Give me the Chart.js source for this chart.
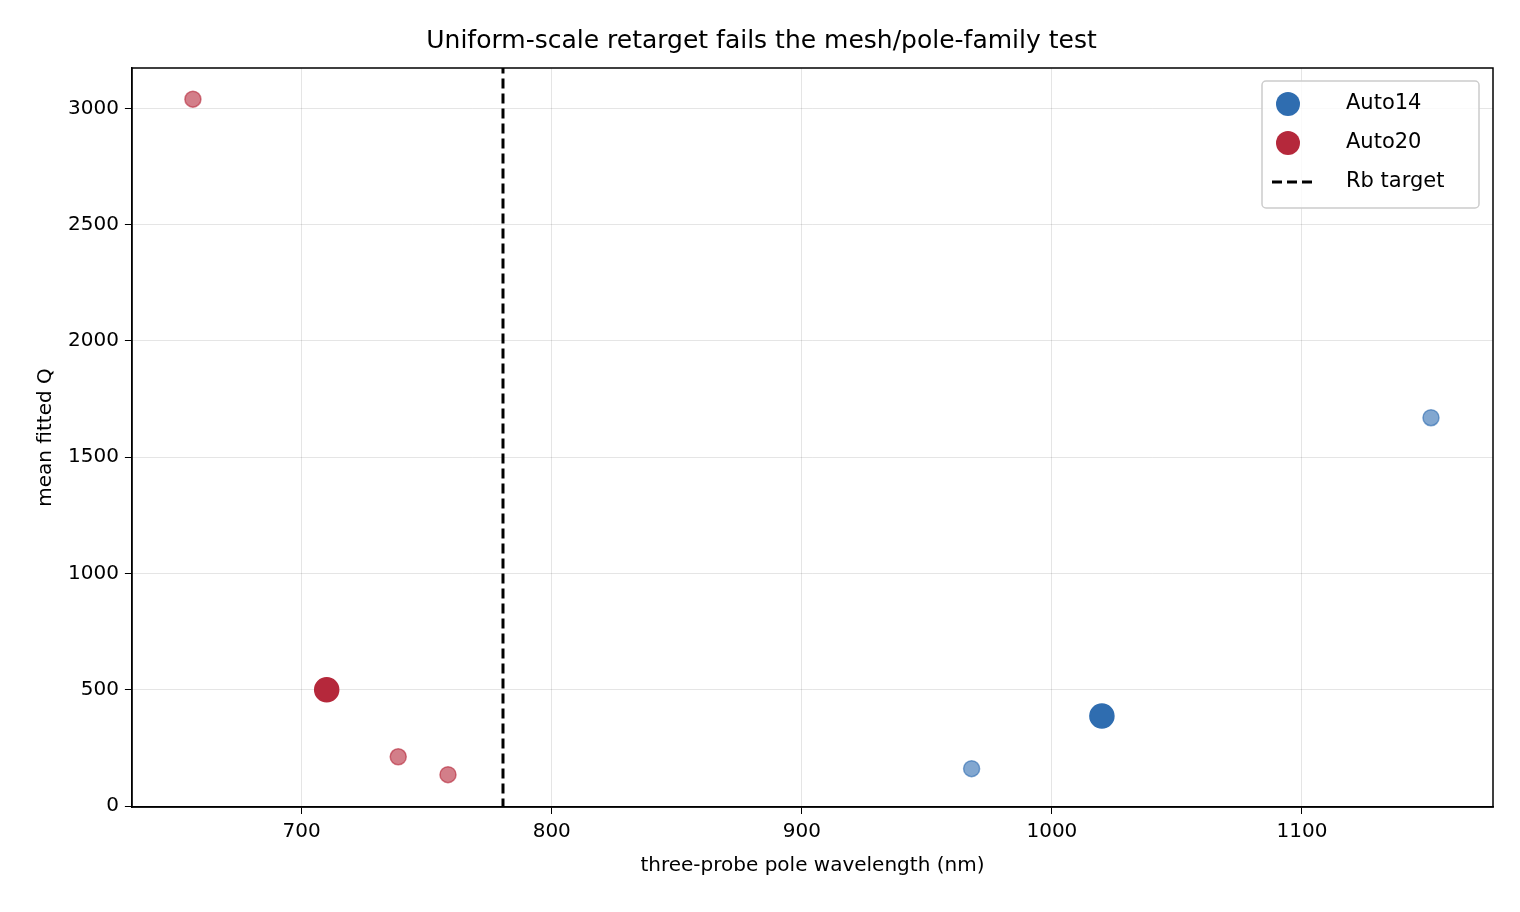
<!DOCTYPE html>
<html><head><meta charset="utf-8">
<script src="https://cdn.jsdelivr.net/npm/chart.js@4/dist/chart.umd.min.js"></script>
<style>body{margin:0;background:#fff}#w{width:1520px;height:912px}</style>
</head><body><div id="w"><canvas id="c"></canvas></div>
<script>
const auto14X=[967.9,1020,1151.6];
const auto14Y=[161,387,1670];
const auto14Main=[false,true,false];
const auto20X=[656.5,710,738.6,758.5];
const auto20Y=[3040,500,212,135];
const auto20Main=[false,true,false,false];
const rbTarget=780.5;
const seriesNames=['Auto14','Auto20','Rb target'];
const BLUE='rgb(47,109,176)',RED='rgb(181,40,59)';
const BLUEA='rgba(47,109,176,0.6)',REDA='rgba(181,40,59,0.6)';
const F='"DejaVu Sans", sans-serif';
const pts=(xs,ys)=>xs.map((x,i)=>({x,y:ys[i]}));
const legendPlugin={id:'lg',afterDraw(ch){
  const c=ch.ctx,a=ch.chartArea;const w=217,h=127,x=a.right-w-14,y=a.top+13;
  c.save();c.strokeStyle='#000';c.lineWidth=1.5;c.strokeRect(a.left,a.top,a.right-a.left,a.bottom-a.top);
  c.fillStyle='rgba(255,255,255,0.8)';c.strokeStyle='#ccc';
  c.beginPath();c.roundRect(x,y,w,h,4);c.fill();c.stroke();
  c.font='21px '+F;c.textBaseline='middle';
  [[BLUE,'c'],[RED,'c'],['#000','l']].forEach((it,i)=>{const cy=y+23+i*39;
    if(it[1]==='c'){c.fillStyle=it[0];c.beginPath();c.arc(x+26,cy,12,0,7);c.fill();}
    else{c.strokeStyle='#000';c.lineWidth=3;c.setLineDash([10,5]);c.beginPath();c.moveTo(x+10,cy);c.lineTo(x+52,cy);c.stroke();c.setLineDash([]);}
    c.fillStyle='#000';c.fillText(seriesNames[i],x+84,cy);});
  c.restore();}};
new Chart(document.getElementById('c'),{type:'scatter',
data:{datasets:[
 {label:seriesNames[0],data:pts(auto14X,auto14Y),backgroundColor:auto14Main.map(m=>m?BLUE:BLUEA),borderColor:auto14Main.map(m=>m?BLUE:BLUEA),pointRadius:auto14Main.map(m=>m?12:8),pointHoverRadius:auto14Main.map(m=>m?12:8),borderWidth:1.5},
 {label:seriesNames[1],data:pts(auto20X,auto20Y),backgroundColor:auto20Main.map(m=>m?RED:REDA),borderColor:auto20Main.map(m=>m?RED:REDA),pointRadius:auto20Main.map(m=>m?12:8),pointHoverRadius:auto20Main.map(m=>m?12:8),borderWidth:1.5},
 {type:'line',label:seriesNames[2],data:[{x:rbTarget,y:-10},{x:rbTarget,y:3200}],borderColor:'#000',borderWidth:3,borderDash:[10,5],pointRadius:0}
]},
options:{responsive:true,maintainAspectRatio:false,animation:false,
 layout:{padding:{left:30,right:27,top:14,bottom:30}},
 plugins:{legend:{display:false},tooltip:{enabled:false},
  title:{display:true,text:'Uniform-scale retarget fails the mesh/pole-family test',color:'#000',font:{family:F,size:25,weight:'normal'},padding:{top:12,bottom:12}}},
 scales:{
  x:{type:'linear',min:632.1,max:1176.4,afterBuildTicks:s=>{s.ticks=[700,800,900,1000,1100].map(v=>({value:v}))},
   title:{display:true,text:'three-probe pole wavelength (nm)',color:'#000',font:{family:F,size:20}},
   ticks:{color:'#000',font:{family:F,size:20},padding:6,callback:v=>String(v)},grid:{color:'rgba(0,0,0,0.1)',tickColor:'#000',tickLength:7},border:{color:'#000',width:1.5}},
  y:{min:-4,max:3174,afterBuildTicks:s=>{s.ticks=[0,500,1000,1500,2000,2500,3000].map(v=>({value:v}))},
   title:{display:true,text:'mean fitted Q',color:'#000',font:{family:F,size:20}},
   ticks:{color:'#000',font:{family:F,size:20},padding:6,callback:v=>String(v)},grid:{color:'rgba(0,0,0,0.1)',tickColor:'#000',tickLength:7},border:{color:'#000',width:1.5}}
 }},plugins:[legendPlugin]});
</script></body></html>
